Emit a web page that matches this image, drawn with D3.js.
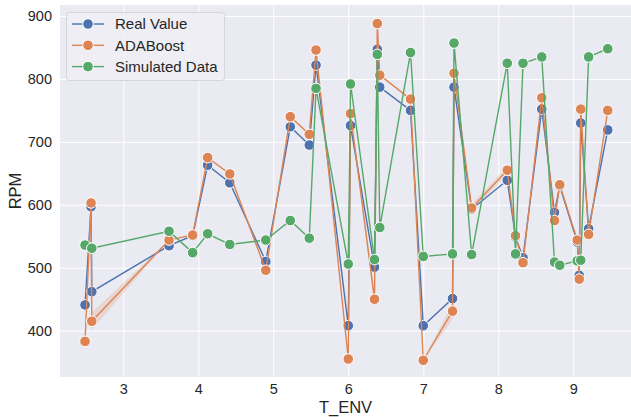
<!DOCTYPE html>
<html><head><meta charset="utf-8">
<script src="https://cdn.jsdelivr.net/npm/d3@7"></script>
<style>body{margin:0;background:#fff}svg{display:block}text{font-family:"Liberation Sans",Arial,sans-serif;fill:#262626}</style>
</head><body>
<svg id="c" width="631" height="417"></svg>
<script>
// T_ENV values shared by Real Value and ADABoost
const tEnv = [2.49, 2.57, 2.58, 3.61, 3.925, 4.125, 4.42, 4.9, 5.227, 5.48, 5.57, 6.0, 6.03, 6.35, 6.387, 6.42, 6.83, 7.0, 7.39, 7.41, 7.645, 8.12, 8.23, 8.33, 8.58, 8.75, 8.82, 9.053, 9.08, 9.10, 9.205, 9.46];
const realValue = [441, 597, 462, 535, 551, 663, 635, 510, 724, 695, 822, 408, 726, 501, 847, 787, 750, 408, 451, 787, 593, 639, 549, 516, 752, 588, 630, 541, 488, 730, 562, 719];
const adaBoost = [383, 603, 415, 544, 552, 675, 649, 496, 740, 712, 846, 355, 745, 450, 888, 806, 768, 353, 431, 809, 595, 655, 551, 508, 770, 575, 632, 544, 482, 752, 553, 750];
const adaCI = [0, 0, 14, 0, 0, 0, 0, 0, 0, 0, 0, 0, 0, 13, 0, 0, 0, 0, 13, 0, 6, 6, 0, 0, 0, 0, 0, 0, 0, 0, 0, 0];
// Simulated data
const simTEnv = [2.49, 2.58, 3.61, 3.925, 4.125, 4.42, 4.9, 5.227, 5.48, 5.57, 6.0, 6.03, 6.35, 6.387, 6.42, 6.83, 7.0, 7.39, 7.41, 7.645, 8.12, 8.23, 8.33, 8.58, 8.75, 8.82, 9.053, 9.10, 9.205, 9.46];
const simulated = [536, 531, 558, 524, 554, 537, 544, 575, 547, 785, 506, 792, 513, 839, 564, 842, 518, 522, 857, 521, 825, 522, 825, 835, 509, 504, 511, 512, 835, 848];
const xTicks = [3, 4, 5, 6, 7, 8, 9];
const yTicks = [400, 500, 600, 700, 800, 900];
const seriesNames = ["Real Value", "ADABoost", "Simulated Data"];
const colors = ["#4C72B0", "#DD8452", "#55A868"];

const svg = d3.select("#c");
const L = 60, R = 631, T = 5, B = 377;
const x = d3.scaleLinear().domain([2.156, 9.77]).range([L, R]);
const y = d3.scaleLinear().domain([326.4, 917.5]).range([B, T]);

svg.append("rect").attr("x", L).attr("y", T).attr("width", R - L).attr("height", B - T).attr("fill", "#EAEAF2");

const gx = svg.append("g").attr("transform", `translate(0,${B})`)
  .call(d3.axisBottom(x).tickValues(xTicks).tickSize(-(B - T)).tickPadding(7).tickFormat(d3.format("d")));
const gy = svg.append("g").attr("transform", `translate(${L},0)`)
  .call(d3.axisLeft(y).tickValues(yTicks).tickSize(-(R - L)).tickPadding(8).tickFormat(d3.format("d")));
[gx, gy].forEach(g => {
  g.select(".domain").remove();
  g.selectAll(".tick line").attr("stroke", "#fff").attr("stroke-width", 1);
  g.selectAll(".tick text").attr("font-size", 14.5).attr("fill", "#262626").style("font-family", '"Liberation Sans",Arial,sans-serif');
});

const plot = svg.append("g");
const real = tEnv.map((t, i) => ({x: t, y: realValue[i]}));
const ada = tEnv.map((t, i) => ({x: t, y: adaBoost[i], ci: adaCI[i]}));
const sim = simTEnv.map((t, i) => ({x: t, y: simulated[i]}));

// CI band for ADABoost
plot.append("path").datum(ada)
  .attr("d", d3.area().x(d => x(d.x)).y0(d => y(d.y - d.ci)).y1(d => y(d.y + d.ci)))
  .attr("fill", colors[1]).attr("opacity", 0.2);

const line = d3.line().x(d => x(d.x)).y(d => y(d.y));
[real, ada, sim].forEach((data, k) => {
  plot.append("path").datum(data).attr("d", line).attr("fill", "none")
    .attr("stroke", colors[k]).attr("stroke-width", 1.4);
  plot.selectAll(null).data(data).enter().append("circle")
    .attr("cx", d => x(d.x)).attr("cy", d => y(d.y)).attr("r", 5.3)
    .attr("fill", colors[k]).attr("stroke", "#fff").attr("stroke-width", 1);
});

// axis labels
svg.append("text").attr("x", (L + R) / 2).attr("y", 413).attr("text-anchor", "middle").attr("font-size", 16.5).text("T_ENV");
svg.append("text").attr("transform", `translate(21,${(T + B) / 2}) rotate(-90)`).attr("text-anchor", "middle").attr("font-size", 16.5).text("RPM");

// legend
const lg = svg.append("g");
lg.append("rect").attr("x", 66.5).attr("y", 12.5).attr("width", 158).attr("height", 68).attr("rx", 3)
  .attr("fill", "#EEEEF4").attr("fill-opacity", 0.9).attr("stroke", "#D5D5DD").attr("stroke-width", 1);
seriesNames.forEach((n, i) => {
  const yy = 24 + i * 21.3;
  lg.append("line").attr("x1", 72).attr("x2", 104).attr("y1", yy).attr("y2", yy).attr("stroke", colors[i]).attr("stroke-width", 1.4);
  lg.append("circle").attr("cx", 88).attr("cy", yy).attr("r", 5.3).attr("fill", colors[i]).attr("stroke", "#fff").attr("stroke-width", 1);
  lg.append("text").attr("x", 115).attr("y", yy + 5.3).attr("font-size", 15).text(n);
});
</script>
</body></html>
